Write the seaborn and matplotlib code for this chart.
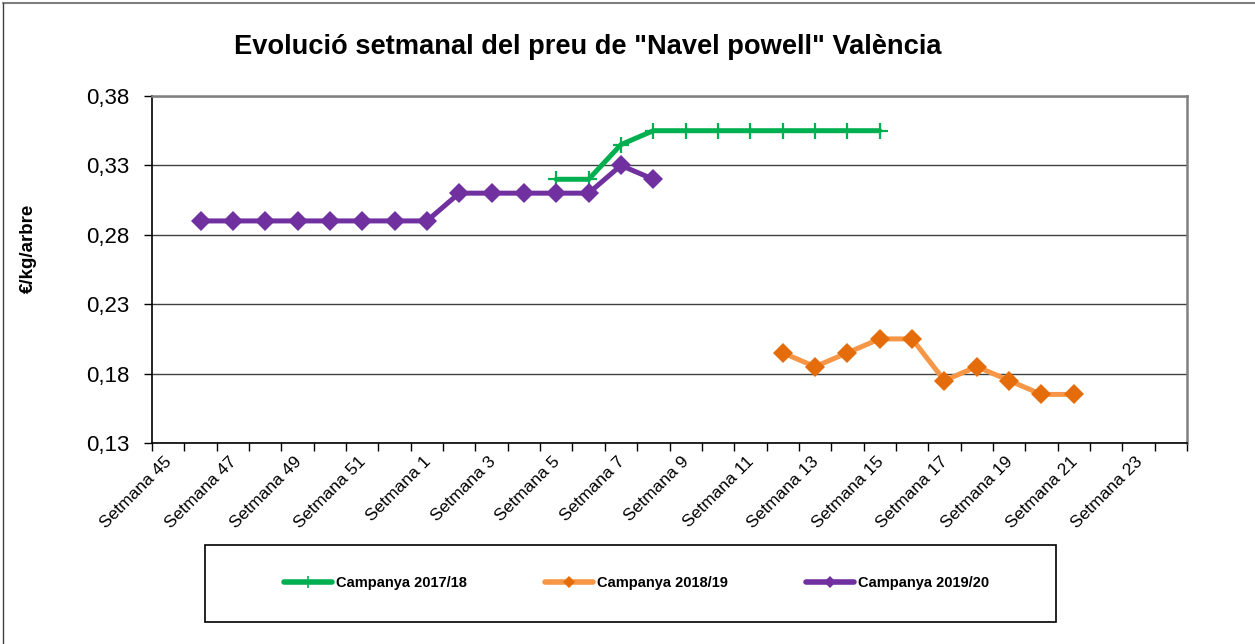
import matplotlib
matplotlib.use("Agg")
import matplotlib.pyplot as plt
import matplotlib.transforms as mtransforms
import seaborn as sns
import pandas as pd
import numpy as np
from matplotlib.lines import Line2D

# ---- data ----
weeks = [45, 46, 47, 48, 49, 50, 51, 52] + list(range(1, 25))
week_labels = [f"Setmana {w}" for w in weeks]

weeks_2017_18 = [5, 6, 7, 8, 9, 10, 11, 12, 13, 14, 15]
prices_2017_18 = [0.32, 0.32, 0.345, 0.355, 0.355, 0.355, 0.355, 0.355, 0.355, 0.355, 0.355]

weeks_2018_19 = [12, 13, 14, 15, 16, 17, 18, 19, 20, 21]
prices_2018_19 = [0.195, 0.185, 0.195, 0.205, 0.205, 0.175, 0.185, 0.175, 0.165, 0.165]

weeks_2019_20 = [46, 47, 48, 49, 50, 51, 52, 1, 2, 3, 4, 5, 6, 7, 8]
prices_2019_20 = [0.29, 0.29, 0.29, 0.29, 0.29, 0.29, 0.29, 0.29, 0.31, 0.31, 0.31, 0.31, 0.31, 0.33, 0.32]

series_names = ["Campanya 2017/18", "Campanya 2018/19", "Campanya 2019/20"]
y_ticks = [0.13, 0.18, 0.23, 0.28, 0.33, 0.38]

# ---- build long table ----
frames = []
for name, wk, pr in zip(series_names,
                        [weeks_2017_18, weeks_2018_19, weeks_2019_20],
                        [prices_2017_18, prices_2018_19, prices_2019_20]):
    frames.append(pd.DataFrame({"serie": name,
                                "pos": [weeks.index(w) for w in wk],
                                "preu": pr}))
df = pd.concat(frames, ignore_index=True)

sns.set_theme(style="white")
plt.rcParams['font.family'] = ['Liberation Sans', 'DejaVu Sans']
plt.rcParams['text.color'] = 'black'
plt.rcParams['axes.labelcolor'] = 'black'
plt.rcParams['xtick.color'] = 'black'
plt.rcParams['ytick.color'] = 'black'

fig = plt.figure(figsize=(12.55, 6.44), dpi=100)
ax = fig.add_axes([152/1255, 1-443/644, (1187-152)/1255, (443-96)/644])

styles = {
    "Campanya 2017/18": dict(color="#00B050", marker="+", markersize=11, mew=1.6,
                             mec="#00B050", mfc="#00B050"),
    "Campanya 2018/19": dict(color="#F79646", marker="D", markersize=10, mew=0,
                             mec="#E46C0A", mfc="#E46C0A"),
    "Campanya 2019/20": dict(color="#7030A0", marker="D", markersize=10, mew=0,
                             mec="#7030A0", mfc="#7030A0"),
}
for name in series_names:
    st = styles[name]
    sns.lineplot(data=df[df.serie == name], x="pos", y="preu", ax=ax,
                 color=st["color"], linewidth=3.6, marker=st["marker"],
                 markersize=st["markersize"], markeredgewidth=st["mew"],
                 markeredgecolor=st["mec"], markerfacecolor=st["mfc"],
                 legend=False, zorder=3)

n = len(weeks)
ax.set_xlim(-0.5, n - 0.5)
ax.set_ylim(0.13, 0.38)
ax.set_yticks(y_ticks)
ax.set_yticklabels([f"{v:.2f}".replace(".", ",") for v in y_ticks], fontsize=16)
ax.yaxis.grid(True, color="#404040", linewidth=1)
ax.xaxis.grid(False)

ax.set_xticks(range(0, n, 2))
ax.set_xticklabels(week_labels[::2], rotation=45, ha="right", rotation_mode="anchor",
                   fontsize=12.5)
ax.set_xticks(np.arange(-0.5, n, 1), minor=True)
ax.tick_params(axis="x", which="major", length=0, pad=8)
ax.tick_params(axis="x", which="minor", length=6, width=1, color="black", bottom=True)
ax.tick_params(axis="y", which="major", length=6, width=1, color="black", left=True, pad=10)
shift = mtransforms.ScaledTranslation(-4/100, 0, fig.dpi_scale_trans)
for lbl in ax.get_xticklabels():
    lbl.set_transform(lbl.get_transform() + shift)

for s in ["left", "bottom"]:
    ax.spines[s].set_color("black")
    ax.spines[s].set_linewidth(1.2)
for s in ["top", "right"]:
    ax.spines[s].set_color("#808080")
    ax.spines[s].set_linewidth(1.8)

ax.set_xlabel("")
ax.set_ylabel("€/kg/arbre", fontsize=13.5, fontweight="bold", labelpad=35.5, y=0.562)

fig.text(588/1255, 1-47/644, 'Evolució setmanal del preu de "Navel powell" València',
         ha="center", va="center", fontsize=19.6, fontweight="bold")

# legend box
fig.patches.append(plt.Rectangle((205/1255, 1-622/644), (1056-205)/1255, (622-545)/644,
                                 transform=fig.transFigure, fill=False,
                                 edgecolor="black", linewidth=1.2))
handles = []
for name in series_names:
    st = styles[name]
    handles.append(Line2D([], [], color=st["color"], linewidth=4, marker=st["marker"],
                          markersize=6 if st["marker"] == "D" else 9,
                          markeredgewidth=1.2 if st["marker"] == "+" else 0,
                          markeredgecolor=st["mec"], markerfacecolor=st["mfc"]))
fig.legend(handles, series_names, loc="center left",
           bbox_to_anchor=(271/1255, 1-583/644), ncol=3, frameon=False,
           handlelength=3.3, handletextpad=0.27, columnspacing=5.35,
           prop={"size": 10.5, "weight": "bold"})

# outer chart border (top and left visible)
fig.add_artist(Line2D([3/1255, 1], [1-3/644, 1-3/644], transform=fig.transFigure,
                      color="#808080", linewidth=1.5))
fig.add_artist(Line2D([3/1255, 3/1255], [0, 1-3/644], transform=fig.transFigure,
                      color="#404040", linewidth=1.0))

fig.savefig("out.png", dpi=100)
